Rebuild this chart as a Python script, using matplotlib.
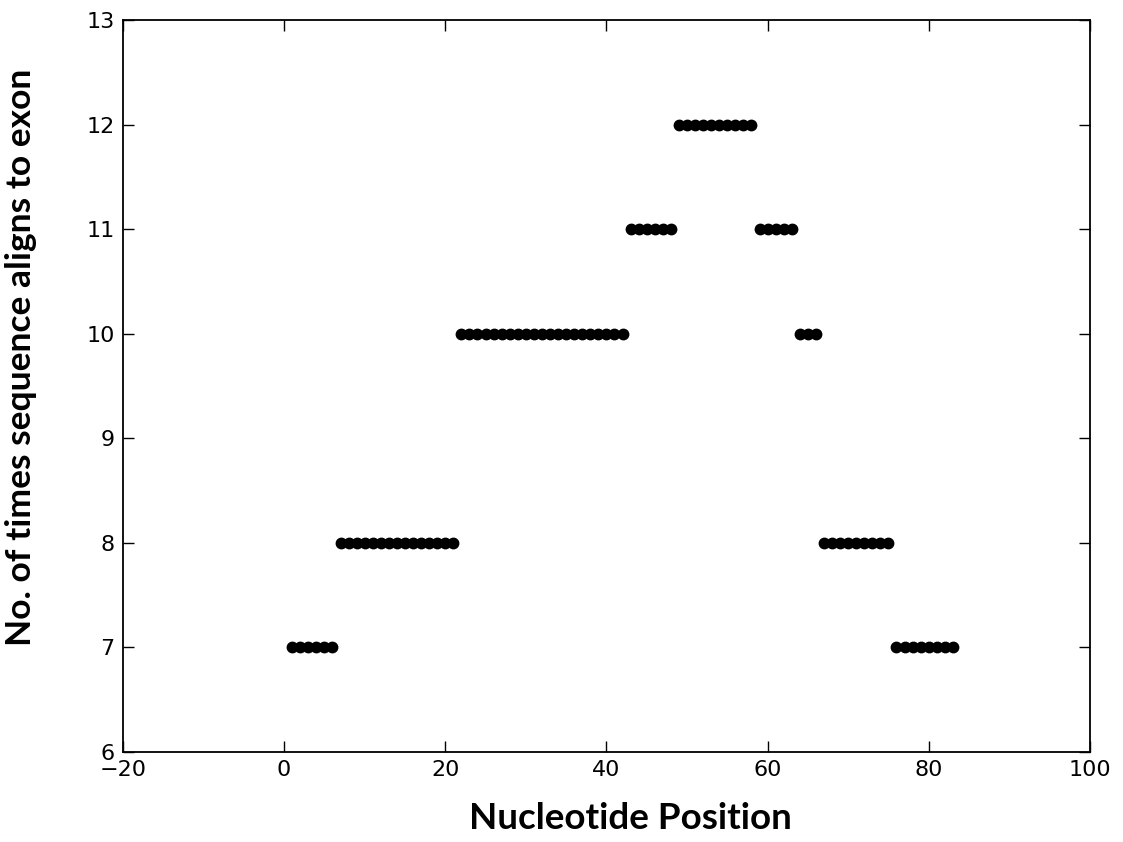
import numpy as np
import matplotlib
matplotlib.use('Agg')
import matplotlib.pyplot as plt

# runs of equal counts along the exon: (first position, last position, count)
run_start = [1, 7, 22, 43, 49, 59, 64, 67, 76]
run_end = [6, 21, 42, 48, 58, 63, 66, 75, 83]
run_count = [7, 8, 10, 11, 12, 11, 10, 8, 7]

pos = []
cnt = []
for s, e, c in zip(run_start, run_end, run_count):
    for p in range(s, e + 1):
        pos.append(p)
        cnt.append(c)

plt.rcParams['font.family'] = ['DejaVu Sans']

fig = plt.figure(figsize=(11.23, 8.42), dpi=100)
ax = fig.add_axes([0.1095, 0.107, 0.861, 0.869])
ax.plot(pos, cnt, 'o', color='black', markersize=7.5)
ax.set_xlim(-20, 100)
ax.set_ylim(6, 13)
ax.set_xticks(np.arange(-20, 101, 20))
ax.set_yticks(np.arange(6, 14, 1))
ax.tick_params(direction='in', top=True, right=True, length=8, width=1, labelsize=16, pad=6)
for sp in ax.spines.values():
    sp.set_linewidth(1.3)
ax.set_xlabel('Nucleotide Position', fontsize=26.5, fontweight='bold', family='Lato')
ax.set_ylabel('No. of times sequence aligns to exon', fontsize=25.5, fontweight='bold', family='Lato')
ax.xaxis.set_label_coords(0.525, -0.068)
ax.yaxis.set_label_coords(-0.089, 0.539)

fig.savefig('out.png', dpi=100)
